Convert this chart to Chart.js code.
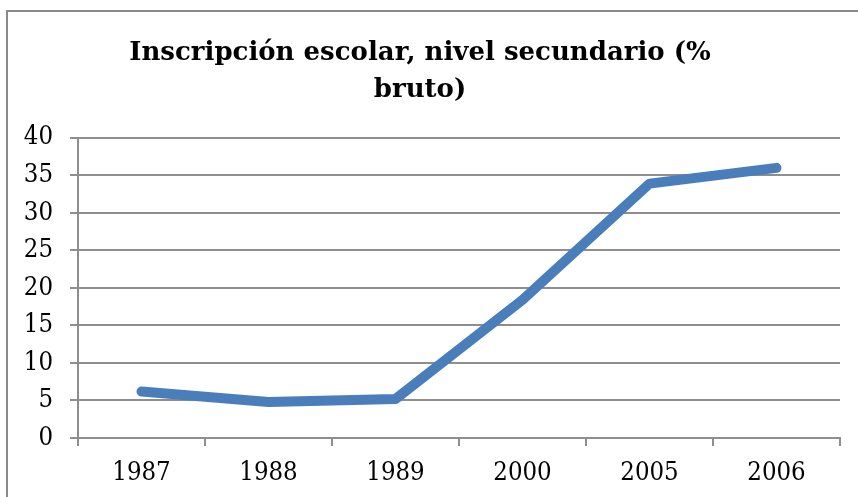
<!DOCTYPE html>
<html>
<head>
<meta charset="utf-8">
<script src="https://cdn.jsdelivr.net/npm/chart.js@4/dist/chart.umd.min.js"></script>
<style>
html,body{margin:0;padding:0;background:#fff;}
#wrap{position:relative;width:858px;height:497px;}
</style>
</head>
<body>
<div id="wrap"><canvas id="c" width="858" height="497"></canvas></div>
<script>
const titleLines = ["Inscripción escolar, nivel secundario (%", "bruto)"];
const categories = ["1987", "1988", "1989", "2000", "2005", "2006"];
const enrollment = [6.2, 4.8, 5.2, 18.4, 33.9, 36.0];
const yTicks = [0, 5, 10, 15, 20, 25, 30, 35, 40];

const frame = {
  id: 'frame',
  beforeDraw(chart) {
    const ctx = chart.ctx;
    ctx.save();
    ctx.fillStyle = '#fff';
    ctx.fillRect(0, 0, chart.width, chart.height);
    ctx.strokeStyle = '#8a8a8a';
    ctx.lineWidth = 2;
    ctx.beginPath();
    ctx.moveTo(7, chart.height);
    ctx.lineTo(7, 11);
    ctx.lineTo(chart.width, 11);
    ctx.stroke();
    ctx.restore();
  }
};

const tickFont = "'DejaVu Serif Condensed', 'DejaVu Serif', serif";
const titleFont = "'DejaVu Serif', serif";
const gridColor = '#8e8e8e';
new Chart(document.getElementById('c'), {
  type: 'line',
  data: {
    labels: categories,
    datasets: [{
      data: enrollment,
      borderColor: '#4a7ebb',
      borderWidth: 10,
      borderCapStyle: 'round',
      borderJoinStyle: 'round',
      pointRadius: 0,
      tension: 0,
      fill: false
    }]
  },
  options: {
    responsive: false,
    animation: false,
    layout: { padding: { left: 0, right: 18, top: 0, bottom: 0 } },
    plugins: {
      legend: { display: false },
      tooltip: { enabled: false },
      title: {
        display: true,
        text: titleLines,
        color: '#000',
        font: { family: titleFont, size: 26, weight: 'bold', lineHeight: 1.42 },
        padding: { top: 35, bottom: 29 }
      }
    },
    scales: {
      x: {
        offset: true,
        grid: { display: true, drawOnChartArea: false, drawTicks: true, tickLength: 8, offset: true, color: gridColor, lineWidth: 2 },
        border: { display: true, color: gridColor, width: 2 },
        ticks: { color: '#000', font: { family: tickFont, size: 25.5 }, padding: 12, maxRotation: 0 },
        afterFit(s) { s.height = 59; }
      },
      y: {
        min: 0, max: 40,
        afterBuildTicks(s) { s.ticks = yTicks.map(v => ({ value: v })); },
        grid: { color: gridColor, lineWidth: 2, tickLength: 8, drawTicks: true },
        border: { display: true, color: gridColor, width: 2 },
        ticks: { color: '#000', font: { family: tickFont, size: 25.5 }, padding: 17 },
        afterFit(s) { s.width = 78; }
      }
    }
  },
  plugins: [frame]
});
</script>
</body>
</html>
